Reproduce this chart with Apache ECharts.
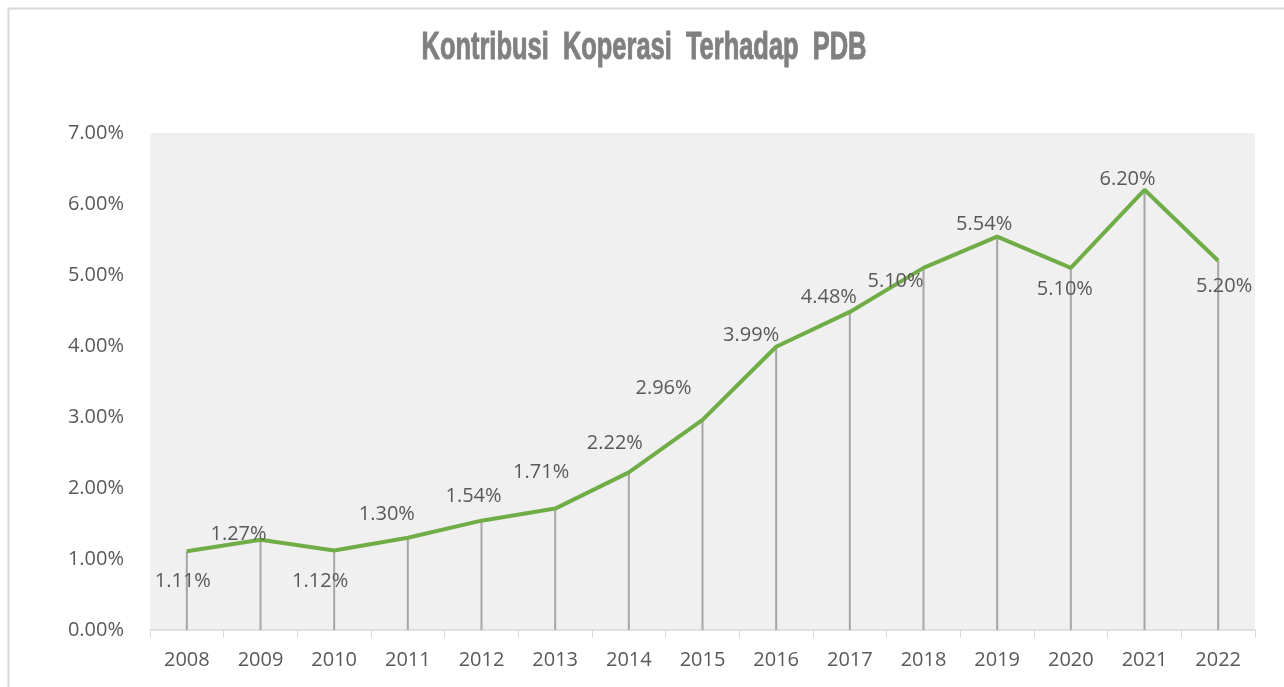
<!DOCTYPE html>
<html>
<head>
<meta charset="utf-8">
<script src="https://cdn.jsdelivr.net/npm/echarts@6/dist/echarts.min.js"></script>
<style>
  html, body { margin: 0; padding: 0; background: #fff; }
  #chart { width: 1284px; height: 687px; }
</style>
</head>
<body>
<div id="chart"></div>
<script>
// data
const years = ["2008", "2009", "2010", "2011", "2012", "2013", "2014", "2015",
  "2016", "2017", "2018", "2019", "2020", "2021", "2022"];
const kontribusi = [1.11, 1.27, 1.12, 1.30, 1.54, 1.71, 2.22, 2.96,
  3.99, 4.48, 5.10, 5.54, 5.10, 6.20, 5.20];

// where each data label sits relative to its point (px)
const labelOffsets = [
  [-4, 30], [-22, -6], [-14, 31], [-21, -23], [-8, -24], [-14, -36], [-14, -29], [-39, -32],
  [-25, -11], [-21, -15], [-28, 13], [-13, -12], [-6, 21], [-17, -11], [6, 25]
];

const titleText = "Kontribusi  Koperasi  Terhadap  PDB";
const titleFont = "bold 38px 'Liberation Sans', Arial, sans-serif";

// squeeze the title to the narrow width of the original
const ctx = document.createElement("canvas").getContext("2d");
ctx.font = titleFont;
const titleScale = 445 / ctx.measureText(titleText).width;

const chart = echarts.init(document.getElementById("chart"));

const lineData = kontribusi.map((v, i) => ({
  value: v,
  label: { offset: labelOffsets[i] }
}));

chart.setOption({
  animation: false,
  graphic: [
    {
      type: "rect",
      left: 6, top: 6,
      shape: { width: 1300, height: 700 },
      style: { fill: "none", stroke: "#d9d9d9", lineWidth: 2 },
      silent: true
    },
    {
      type: "text",
      x: 644, y: 49,
      scaleX: titleScale,
      style: {
        text: titleText,
        x: 0, y: 0,
        align: "center",
        verticalAlign: "middle",
        font: titleFont,
        fill: "#808080",
        stroke: "#808080",
        lineWidth: 1
      },
      silent: true
    }
  ],
  grid: {
    left: 150, right: 29, top: 133, bottom: 57,
    show: true,
    backgroundColor: "#f0f0f0",
    borderWidth: 0
  },
  xAxis: {
    type: "category",
    data: years,
    boundaryGap: true,
    axisLine: { lineStyle: { color: "#d9d9d9", width: 1.5 } },
    axisTick: { show: true, length: 8, lineStyle: { color: "#d9d9d9" } },
    axisLabel: {
      color: "#595959",
      fontFamily: "'Open Sans', sans-serif",
      fontSize: 20,
      margin: 20
    }
  },
  yAxis: {
    type: "value",
    min: 0, max: 7, interval: 1,
    axisLine: { show: false },
    axisTick: { show: false },
    splitLine: { show: false },
    axisLabel: {
      color: "#595959",
      fontFamily: "'Open Sans', sans-serif",
      fontSize: 20,
      margin: 26,
      formatter: v => v.toFixed(2) + "%"
    }
  },
  series: [
    {
      // drop lines from each point down to the axis
      type: "bar",
      data: kontribusi,
      barWidth: 2,
      itemStyle: { color: "#a6a6a6" },
      silent: true,
      z: 1
    },
    {
      type: "line",
      data: lineData,
      symbol: "circle",
      symbolSize: 0,
      showSymbol: true,
      lineStyle: { color: "#70ad47", width: 4 },
      itemStyle: { color: "#70ad47" },
      z: 3,
      label: {
        show: true,
        position: "inside",
        color: "#595959",
        fontFamily: "'Open Sans', sans-serif",
        fontSize: 20,
        formatter: p => p.value.toFixed(2) + "%"
      }
    }
  ]
});
</script>
</body>
</html>
